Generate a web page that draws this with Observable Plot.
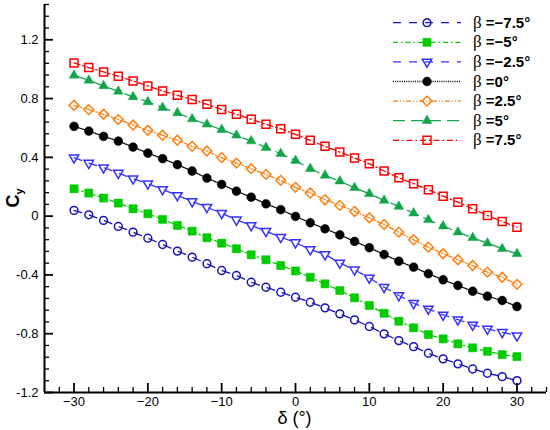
<!DOCTYPE html>
<html>
<head>
<meta charset="utf-8">
<script src="https://cdn.jsdelivr.net/npm/d3@7"></script>
<script src="https://cdn.jsdelivr.net/npm/@observablehq/plot@0.6"></script>
<style>
  html, body { margin: 0; padding: 0; background: #fff; }
  #chart { width: 550px; height: 430px; }
</style>
</head>
<body>
<div id="chart"></div>
<script>
// ---------- data ----------
const delta = [-30,-28,-26,-24,-22,-20,-18,-16,-14,-12,-10,-8,-6,-4,-2,0,2,4,6,8,10,12,14,16,18,20,22,24,26,28,30];
const betaValues = ["\u22127.5", "\u22125", "\u22122.5", "0", "2.5", "5", "7.5"];

const cyBetaM75 = [0.039,0.009,-0.029,-0.070,-0.109,-0.150,-0.193,-0.238,-0.279,-0.324,-0.370,-0.404,-0.450,-0.484,-0.518,-0.552,-0.586,-0.624,-0.665,-0.706,-0.751,-0.801,-0.847,-0.888,-0.933,-0.971,-1.005,-1.040,-1.069,-1.092,-1.119];
const cyBetaM5  = [0.186,0.157,0.123,0.089,0.050,0.016,-0.022,-0.063,-0.102,-0.147,-0.184,-0.222,-0.263,-0.297,-0.336,-0.373,-0.416,-0.461,-0.506,-0.556,-0.608,-0.661,-0.715,-0.760,-0.806,-0.835,-0.869,-0.896,-0.920,-0.942,-0.956];
const cyBetaM25 = [0.398,0.361,0.330,0.293,0.255,0.221,0.182,0.141,0.100,0.061,0.020,-0.025,-0.063,-0.102,-0.143,-0.180,-0.227,-0.261,-0.318,-0.365,-0.420,-0.484,-0.540,-0.593,-0.631,-0.672,-0.704,-0.740,-0.767,-0.790,-0.813];
const cyBeta0   = [0.611,0.579,0.543,0.511,0.470,0.429,0.391,0.350,0.307,0.259,0.216,0.170,0.129,0.084,0.044,-0.002,-0.045,-0.086,-0.127,-0.172,-0.215,-0.261,-0.307,-0.347,-0.392,-0.433,-0.472,-0.511,-0.545,-0.574,-0.615];
const cyBetaP25 = [0.754,0.725,0.693,0.657,0.620,0.584,0.550,0.516,0.475,0.443,0.398,0.361,0.323,0.284,0.243,0.196,0.157,0.112,0.073,0.032,-0.011,-0.057,-0.109,-0.161,-0.211,-0.256,-0.297,-0.336,-0.381,-0.416,-0.464];
const cyBetaP5  = [0.958,0.924,0.886,0.849,0.811,0.777,0.738,0.702,0.661,0.625,0.588,0.550,0.511,0.466,0.425,0.378,0.323,0.277,0.238,0.193,0.152,0.107,0.066,0.020,-0.025,-0.068,-0.109,-0.147,-0.184,-0.222,-0.256];
const cyBetaP75 = [1.042,1.011,0.981,0.952,0.920,0.886,0.852,0.822,0.793,0.761,0.725,0.693,0.659,0.625,0.595,0.557,0.516,0.475,0.436,0.395,0.357,0.307,0.261,0.221,0.180,0.136,0.095,0.050,0.005,-0.036,-0.075];
const seriesValues = [cyBetaM75, cyBetaM5, cyBetaM25, cyBeta0, cyBetaP25, cyBetaP5, cyBetaP75];

const xDomain = [-34, 34];
const yDomain = [-1.2, 1.44];
const xMajorTicks = [-30, -20, -10, 0, 10, 20, 30];
const xMinorTicks = [-34,-32,-28,-26,-24,-22,-18,-16,-14,-12,-8,-6,-4,-2,2,4,6,8,12,14,16,18,22,24,26,28,32,34];
const yMajorTicks = [-1.2, -0.8, -0.4, 0, 0.4, 0.8, 1.2];
const yMinorTicks = [-1.12,-1.04,-0.96,-0.88,-0.72,-0.64,-0.56,-0.48,-0.32,-0.24,-0.16,-0.08,0.08,0.16,0.24,0.32,0.48,0.56,0.64,0.72,0.88,0.96,1.04,1.12,1.28,1.36,1.44];

// ---------- styles ----------
const colors   = ["#1414b4", "#00cc00", "#3333ff", "#000000", "#ff7f0e", "#12a64b", "#ff0000"];
const symbols  = [d3.symbolCircle, d3.symbolSquare, d3.symbolTriangle, d3.symbolCircle, d3.symbolSquare, d3.symbolTriangle, d3.symbolSquare];
const rotations = [0, 0, 180, 0, 45, 0, 0];
const filled   = [false, true, false, true, false, true, false];
const radii    = [3.9, 4.6, 3.5, 4.4, 3.9, 3.6, 4.5];
const dashes   = ["8,8", "5,3,1.5,3", "8,8", "1,1.2", "5,2,1,2,1,2", "12,6", "6,3,1.5,3"];

const rows = seriesValues.map((vals, s) => vals.map((v, j) => ({x: delta[j], y: v, s})));

const seriesMarks = [];
rows.forEach((data, s) => {
  seriesMarks.push(Plot.line(data, {x: "x", y: "y", stroke: colors[s], strokeWidth: 1.3, strokeDasharray: dashes[s]}));
});
rows.forEach((data, s) => {
  seriesMarks.push(Plot.dot(data, {
    x: "x", y: "y", symbol: symbols[s], r: radii[s], rotate: rotations[s],
    fill: filled[s] ? colors[s] : "none",
    stroke: colors[s], strokeWidth: filled[s] ? 0.5 : 1.5
  }));
});

const fmtX = d => d < 0 ? "\u2212" + Math.abs(d) : String(d);
const fmtY = d => d === 0 ? "0" : d.toFixed(1);

const svg = Plot.plot({
  width: 550,
  height: 430,
  marginLeft: 44,
  marginRight: 4,
  marginTop: 4,
  marginBottom: 38,
  style: {fontFamily: "'Liberation Sans', Arial, sans-serif", fontSize: "13px", background: "#fff", color: "#000", overflow: "visible"},
  x: {domain: xDomain},
  y: {domain: yDomain},
  marks: [
    ...seriesMarks,
    Plot.axisX(xMinorTicks, {tickSize: -5, strokeWidth: 1.3, fill: "none", label: null}),
    Plot.axisY(yMinorTicks, {tickSize: -5, strokeWidth: 1.3, fill: "none", label: null}),
    Plot.axisX(xMajorTicks, {tickSize: -9, tickPadding: 13, strokeWidth: 1.8, tickFormat: fmtX, label: null, fontSize: 13}),
    Plot.axisY(yMajorTicks, {tickSize: -9, tickPadding: 15, strokeWidth: 1.8, tickFormat: fmtY, label: null, fontSize: 13}),
    Plot.ruleX([xDomain[0]], {stroke: "#000", strokeWidth: 2}),
    Plot.ruleY([yDomain[0]], {stroke: "#000", strokeWidth: 2})
  ]
});

const root = d3.select(svg);

// y-axis title C_y
const yt = root.append("text")
  .attr("transform", "translate(19,198) rotate(-90)")
  .attr("text-anchor", "middle")
  .attr("font-family", "'Liberation Sans', Arial, sans-serif")
  .attr("font-weight", "bold")
  .attr("font-size", 18)
  .attr("fill", "#000");
yt.append("tspan").text("C");
yt.append("tspan").attr("font-size", 11).attr("dy", 4).text("y");

// x-axis title
root.append("text")
  .attr("x", 294.5).attr("y", 424)
  .attr("text-anchor", "middle")
  .attr("font-family", "'Liberation Sans', Arial, sans-serif")
  .attr("font-size", 18)
  .attr("fill", "#000")
  .text("\u03b4 (\u00b0)");

// legend
const lg = root.append("g").attr("class", "legend");
betaValues.forEach((b, s) => {
  const cy = 22.7 + 19.6 * s;
  lg.append("line")
    .attr("x1", 393).attr("x2", 461).attr("y1", cy).attr("y2", cy)
    .attr("stroke", colors[s]).attr("stroke-width", 1.3)
    .attr("stroke-dasharray", dashes[s]);
  lg.append("path")
    .attr("d", d3.symbol(symbols[s], Math.PI * radii[s] * radii[s])())
    .attr("transform", `translate(427,${cy}) rotate(${rotations[s]})`)
    .attr("fill", filled[s] ? colors[s] : "#fff")
    .attr("fill-opacity", filled[s] ? 1 : 0)
    .attr("stroke", colors[s]).attr("stroke-width", filled[s] ? 0.5 : 1.5);
  const t = lg.append("text")
    .attr("x", 473).attr("y", cy + 5)
    .attr("text-anchor", "start")
    .attr("fill", "#000");
  t.append("tspan").attr("font-family", "'Liberation Serif', 'Times New Roman', serif").attr("font-size", 17).text("\u03b2");
  t.append("tspan").attr("font-family", "'Liberation Sans', Arial, sans-serif").attr("font-weight", "bold").attr("font-size", 15).text(" =" + b + "\u00b0");
});

document.getElementById("chart").appendChild(svg);
</script>
</body>
</html>
